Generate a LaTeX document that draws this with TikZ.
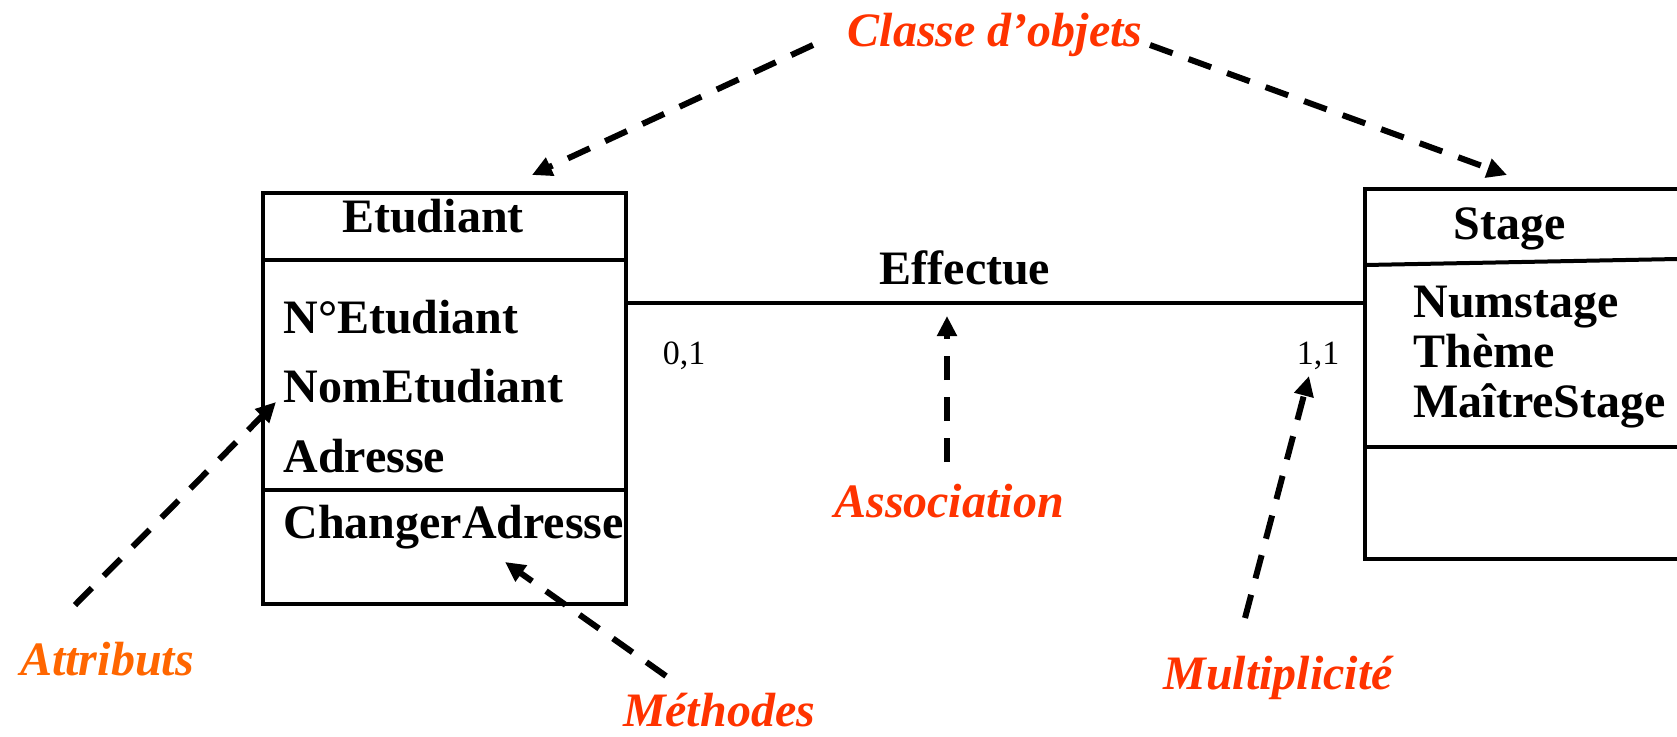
\documentclass[tikz,border=0pt]{standalone}
\usepackage{fontspec}
\setmainfont{Liberation Serif}
\usetikzlibrary{arrows.meta}
\definecolor{notered}{RGB}{255,51,0}
\definecolor{noteorange}{RGB}{255,102,0}
\begin{document}
\begin{tikzpicture}[x=0.5pt,y=-0.5pt,
  boxline/.style={line width=2pt},
  assocline/.style={line width=1.6pt},
  boxtext/.style={inner sep=0pt,font=\fontsize{24}{28}\selectfont\bfseries},
  multtext/.style={inner sep=0pt,font=\fontsize{17}{20}\selectfont},
  note/.style={inner sep=0pt,text=notered,font=\fontsize{24}{28}\selectfont\bfseries\itshape},
  pointer/.style={line width=3pt,dash pattern=on 12pt off 8.5pt,
    -{Triangle[length=10pt,width=9.5pt]}}]
\useasboundingbox (0,0) rectangle (1677,736);

% class Etudiant
\draw[boxline] (263,193) rectangle (626,604);
\draw[boxline] (263,260) -- (626,260);
\draw[boxline] (263,490) -- (626,490);
\node[boxtext,anchor=base] (etud) at (433,232) {Etudiant};
\node[boxtext,anchor=base west] (a1) at (283,333) {N°Etudiant};
\node[boxtext,anchor=base west] (a2) at (283,402) {NomEtudiant};
\node[boxtext,anchor=base west] (a3) at (283,472) {Adresse};
\node[boxtext,anchor=base west] (m1) at (283,538) {ChangerAdresse};

% class Stage (open on the right)
\draw[boxline] (1677,189) -- (1365,189) -- (1365,559) -- (1677,559);
\draw[boxline] (1365,265) -- (1677,259);
\draw[boxline] (1365,447) -- (1677,447);
\node[boxtext,anchor=base west] (stage) at (1453,239) {Stage};
\node[boxtext,anchor=base west] (s1) at (1413,317) {Numstage};
\node[boxtext,anchor=base west] (s2) at (1413,367) {Thème};
\node[boxtext,anchor=base west] (s3) at (1413,417) {MaîtreStage};

% association
\coordinate (eR) at (626,303);
\coordinate (sL) at (1365,303);
\draw[assocline] (eR) -- (sL);
\node[boxtext,anchor=base] (eff) at (965,284) {Effectue};
\node[multtext,anchor=base] (m01) at (684,364) {0,1};
\node[multtext,anchor=base] (m11) at (1318,364) {1,1};

% annotations
\node[note,anchor=base] (classe) at (995,46) {Classe d’objets};
\node[note,anchor=base,text=noteorange] (attr) at (107,675) {Attributs};
\node[note,anchor=base] (meth) at (719,726) {Méthodes};
\node[note,anchor=base] (assoc) at (949,517) {Association};
\node[note,anchor=base] (mult) at (1278,689) {Multiplicité};

\coordinate (c1s) at (813,45);   \coordinate (c1e) at (532,175);
\coordinate (c2s) at (1150,45);  \coordinate (c2e) at (1507,175);
\coordinate (at1) at (75,605);   \coordinate (at2) at (276,402);
\coordinate (me1) at (666,676);  \coordinate (me2) at (505,562);
\coordinate (as1) at (947,462);  \coordinate (as2) at (947,316);
\coordinate (mu1) at (1245,618); \coordinate (mu2) at (1309,376);

\draw[pointer] (c1s) -- (c1e);
\draw[pointer] (c2s) -- (c2e);
\draw[pointer] (at1) -- (at2);
\draw[pointer] (me1) -- (me2);
\draw[pointer] (as1) -- (as2);
\draw[pointer] (mu1) -- (mu2);
\end{tikzpicture}
\end{document}
